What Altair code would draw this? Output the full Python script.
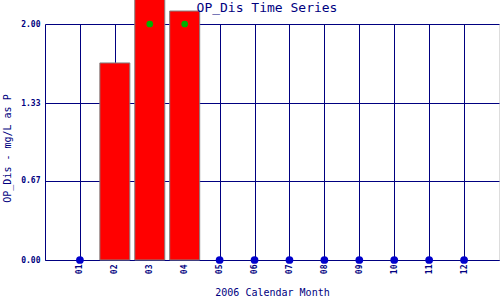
import altair as alt
import pandas as pd

# ---- data ----
bar_months = [2, 3, 4]
bar_values = [1.67, 2.30, 2.11]
green_months = [3, 4]
green_values = [2.0, 2.0]
blue_months = [1, 5, 6, 7, 8, 9, 10, 11, 12]
blue_values = [0, 0, 0, 0, 0, 0, 0, 0, 0]
x_ticks = [1, 2, 3, 4, 5, 6, 7, 8, 9, 10, 11, 12]
y_ticks = [0.0, 0.67, 1.33, 2.0]

rows = []
for m, v in zip(bar_months, bar_values):
    rows.append({"month": m, "value": v, "kind": "bar"})
for m, v in zip(green_months, green_values):
    rows.append({"month": m, "value": v, "kind": "green"})
for m, v in zip(blue_months, blue_values):
    rows.append({"month": m, "value": v, "kind": "blue"})
df = pd.DataFrame(rows)

NAVY = "#000080"
MONO = "DejaVu Sans Mono"

x_enc = alt.X(
    "month:Q",
    scale=alt.Scale(domain=[0, 13], nice=False, zero=False, padding=0),
    axis=alt.Axis(
        values=x_ticks,
        labelExpr="datum.value < 10 ? '0' + datum.value : '' + datum.value",
        labelAngle=270,
        labelAlign="right",
        labelBaseline="middle",
        labelFont=MONO,
        labelFontSize=8,
        labelFontWeight="bold",
        labelColor=NAVY,
        labelPadding=4,
        tickSize=0,
        grid=True,
        gridColor=NAVY,
        gridWidth=1,
        gridOpacity=1,
        domainColor=NAVY,
        title="2006 Calendar Month",
        titleFont=MONO,
        titleFontSize=10,
        titleFontWeight="normal",
        titleColor=NAVY,
        titlePadding=14,
    ),
)
y_enc = alt.Y(
    "value:Q",
    scale=alt.Scale(domain=[0, 2], nice=False, padding=0),
    axis=alt.Axis(
        values=y_ticks,
        format=".2f",
        labelFont=MONO,
        labelFontSize=8,
        labelFontWeight="bold",
        labelColor=NAVY,
        labelPadding=5,
        tickSize=0,
        grid=True,
        gridColor=NAVY,
        gridWidth=1,
        gridOpacity=1,
        domainColor=NAVY,
        title="OP_Dis - mg/L as P",
        titleFont=MONO,
        titleFontSize=10,
        titleFontWeight="normal",
        titleColor=NAVY,
        titlePadding=8,
        titleY=124,
    ),
)

base = alt.Chart(df).encode(x=x_enc, y=y_enc)

bars = base.transform_filter(alt.datum.kind == "bar").mark_bar(
    color="#ff0000", stroke="#808080", strokeWidth=1, size=30
)
green = base.transform_filter(alt.datum.kind == "green").mark_point(
    filled=True, color="#00b000", size=45, opacity=1
)
blue = base.transform_filter(alt.datum.kind == "blue").mark_point(
    filled=True, color="#0000cc", size=60, opacity=1
)

chart = (
    alt.layer(bars, green, blue)
    .properties(
        width=454,
        height=236,
        title=alt.TitleParams(
            "OP_Dis Time Series",
            font=MONO,
            fontSize=13,
            fontWeight="normal",
            color=NAVY,
            anchor="middle",
            offset=0,
            dy=27,
            dx=-5,
        ),
        autosize=alt.AutoSizeParams(type="none"),
        padding={"left": 45, "top": 24, "right": 1, "bottom": 40},
    )
    .configure_view(stroke=NAVY, strokeWidth=1)
    .configure(background="white")
)

chart.save("out.html", embed_options={"renderer": "svg", "actions": False})
